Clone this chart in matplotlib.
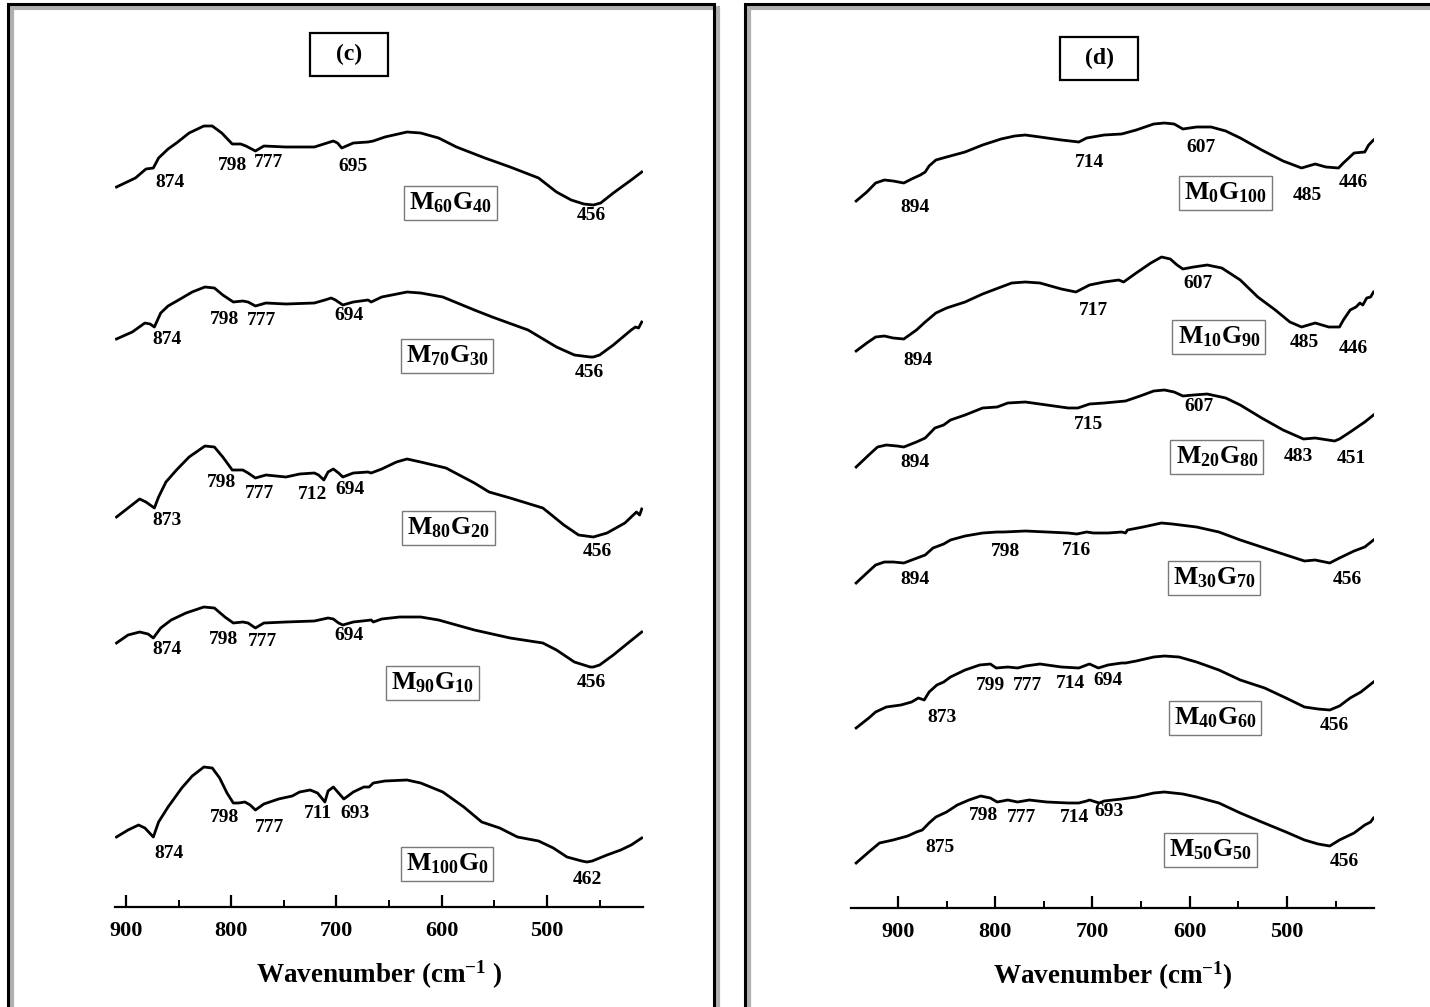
import matplotlib.pyplot as plt
from matplotlib.patches import Rectangle
from matplotlib.ticker import MultipleLocator

plt.rcParams['font.family'] = ['Liberation Serif', 'DejaVu Serif']
plt.rcParams['font.weight'] = 'bold'
plt.rcParams['mathtext.fontset'] = 'custom'
plt.rcParams['mathtext.rm'] = 'Liberation Serif:bold'
plt.rcParams['mathtext.bf'] = 'Liberation Serif:bold'
plt.rcParams['mathtext.it'] = 'Liberation Serif:bold'

# ---- panel (c): FTIR spectra, offset transmittance (a.u.) ----
m60g40_wn = [909, 891, 881, 874, 869, 860, 852, 840, 826, 818, 809, 799, 791, 786, 777, 769, 748, 721, 709, 703,
             699, 695, 684, 670, 665, 654, 633, 620, 603, 586, 559, 535, 508, 491, 477, 465, 456, 449, 437, 420, 410]
m60g40_t = [720, 729, 738, 739, 749, 758, 764, 774, 781, 781, 774, 763, 763, 761, 756, 761, 760, 760, 764, 766,
            764, 759, 764, 765, 766, 770, 775, 774, 769, 760, 749, 740, 729, 715, 707, 703, 702, 704, 714, 727, 735]

m70g30_wn = [909, 894, 882, 877, 873, 867, 860, 850, 837, 825, 816, 808, 798, 789, 784, 777, 767, 748, 721, 711,
             705, 701, 694, 684, 670, 667, 657, 633, 620, 599, 569, 552, 518, 491, 474, 459, 456, 450, 437, 420,
             416, 413, 410]
m70g30_t = [568, 575, 584, 583, 580, 594, 601, 607, 615, 620, 619, 612, 605, 606, 605, 601, 604, 603, 604, 607,
            609, 607, 602, 605, 607, 605, 610, 615, 614, 610, 597, 590, 577, 560, 552, 550, 550, 552, 562, 577,
            580, 579, 585]

m80g20_wn = [909, 898, 887, 881, 873, 869, 862, 852, 840, 825, 816, 808, 799, 789, 784, 777, 767, 748, 735, 721,
             717, 712, 708, 703, 698, 694, 684, 670, 667, 657, 643, 633, 620, 596, 569, 555, 535, 504, 498, 484,
             470, 456, 443, 426, 418, 415, 412, 410]
m80g20_t = [390, 399, 408, 405, 399, 410, 425, 437, 450, 461, 460, 450, 437, 437, 434, 429, 432, 430, 433, 434,
            432, 427, 435, 438, 434, 430, 434, 435, 434, 438, 445, 448, 445, 439, 424, 415, 409, 399, 394, 382,
            372, 370, 374, 384, 392, 395, 392, 398]

m90g10_wn = [909, 898, 887, 879, 874, 867, 857, 843, 826, 816, 806, 798, 789, 784, 777, 769, 748, 721, 708, 703,
             698, 694, 684, 667, 665, 657, 640, 620, 603, 569, 535, 504, 491, 474, 459, 456, 450, 437, 423, 410]
m90g10_t = [264, 272, 275, 273, 269, 279, 287, 294, 300, 299, 290, 284, 285, 284, 279, 284, 285, 286, 289, 288,
            284, 282, 285, 287, 285, 288, 290, 290, 287, 277, 269, 264, 257, 245, 240, 240, 242, 252, 264, 275]

m100g0_wn = [909, 898, 888, 882, 874, 869, 860, 847, 837, 826, 818, 811, 804, 798, 793, 787, 782, 777, 769, 755,
             742, 735, 725, 718, 711, 708, 703, 698, 693, 684, 674, 669, 665, 654, 633, 620, 599, 579, 562, 545,
             528, 508, 494, 481, 467, 462, 457, 443, 430, 420, 410]
m100g0_t = [70, 77, 82, 79, 70, 85, 100, 119, 131, 140, 139, 129, 114, 104, 104, 105, 102, 97, 103, 108,
            111, 115, 117, 114, 105, 116, 120, 114, 108, 115, 120, 120, 124, 126, 127, 124, 115, 100, 85, 79,
            70, 66, 59, 50, 46, 45, 46, 52, 57, 62, 69]

# ---- panel (d) ----
m0g100_wn = [943, 932, 923, 914, 905, 894, 886, 877, 872, 868, 861, 850, 831, 813, 794, 780, 769, 754, 732, 714,
             706, 688, 670, 655, 637, 626, 616, 607, 593, 578, 563, 548, 526, 504, 485, 471, 460, 447, 442, 431,
             420, 416, 411]
m0g100_t = [707, 716, 725, 728, 727, 725, 729, 733, 736, 742, 748, 751, 756, 763, 769, 772, 773, 771, 768, 766,
            770, 773, 774, 778, 784, 785, 784, 779, 781, 781, 777, 770, 758, 747, 740, 744, 741, 740, 745, 755,
            756, 763, 768]

m10g90_wn = [943, 932, 923, 914, 905, 894, 881, 872, 861, 850, 831, 813, 794, 783, 769, 754, 732, 717, 703, 688,
             673, 668, 655, 640, 629, 620, 613, 607, 596, 582, 567, 548, 530, 512, 497, 485, 471, 457, 446, 442,
             435, 429, 425, 422, 418, 414, 411]
m10g90_t = [557, 565, 571, 572, 570, 569, 578, 586, 595, 600, 606, 614, 621, 625, 626, 625, 619, 616, 623, 626,
            628, 626, 635, 645, 651, 649, 643, 639, 641, 643, 640, 628, 611, 598, 586, 581, 585, 581, 581, 588,
            598, 601, 605, 603, 610, 611, 616]

m20g80_wn = [943, 930, 921, 912, 901, 894, 881, 872, 862, 853, 846, 831, 813, 798, 787, 769, 747, 725, 715, 703,
             688, 666, 651, 637, 626, 616, 607, 596, 582, 563, 548, 526, 504, 483, 471, 451, 446, 435, 420, 411]
m20g80_t = [441, 453, 461, 463, 462, 461, 466, 470, 480, 483, 488, 493, 500, 501, 505, 506, 503, 500, 500, 504,
            505, 507, 512, 517, 518, 516, 512, 513, 514, 510, 503, 490, 478, 469, 470, 467, 469, 476, 486, 493]

m30g70_wn = [943, 932, 923, 914, 905, 894, 883, 872, 864, 853, 846, 831, 813, 798, 791, 769, 747, 725, 716, 706,
             699, 684, 670, 666, 664, 648, 629, 618, 593, 570, 548, 523, 501, 482, 471, 456, 446, 431, 420, 411]
m30g70_t = [325, 335, 343, 346, 346, 345, 349, 353, 360, 364, 368, 372, 375, 376, 376, 377, 376, 375, 374, 376,
            375, 375, 376, 375, 378, 381, 385, 384, 381, 376, 368, 360, 353, 347, 348, 345, 350, 357, 361, 368]

m40g60_wn = [943, 930, 923, 912, 897, 886, 879, 873, 868, 860, 853, 846, 831, 816, 805, 799, 787, 777, 769, 754,
             732, 714, 706, 703, 694, 684, 670, 666, 655, 637, 626, 611, 593, 570, 548, 523, 501, 482, 468, 456,
             446, 435, 424, 411]
m40g60_t = [180, 190, 196, 201, 203, 206, 210, 208, 216, 223, 226, 231, 238, 243, 244, 240, 241, 240, 242, 244,
            241, 240, 243, 244, 240, 243, 245, 245, 247, 251, 252, 251, 246, 238, 228, 220, 210, 201, 199, 198,
            202, 210, 216, 226]

m50g50_wn = [943, 930, 919, 905, 890, 881, 875, 868, 861, 850, 839, 827, 815, 805, 798, 787, 777, 765, 747, 725,
             714, 706, 703, 693, 688, 670, 655, 637, 626, 607, 593, 570, 548, 526, 501, 482, 468, 456, 446, 431,
             420, 414, 411]
m50g50_t = [45, 56, 65, 68, 72, 76, 78, 85, 91, 96, 103, 108, 112, 110, 106, 108, 106, 108, 106, 105,
            105, 107, 108, 105, 107, 109, 111, 115, 116, 114, 111, 105, 95, 86, 76, 68, 64, 62, 68, 75,
            83, 86, 90]

# sample names
names_c = ['M$_{60}$G$_{40}$', 'M$_{70}$G$_{30}$', 'M$_{80}$G$_{20}$', 'M$_{90}$G$_{10}$', 'M$_{100}$G$_{0}$']
names_d = ['M$_{0}$G$_{100}$', 'M$_{10}$G$_{90}$', 'M$_{20}$G$_{80}$', 'M$_{30}$G$_{70}$',
           'M$_{40}$G$_{60}$', 'M$_{50}$G$_{50}$']

# assigned band positions (cm-1)
peaks_c = [[874, 798, 777, 695, 456], [874, 798, 777, 694, 456], [873, 798, 777, 712, 694, 456],
           [874, 798, 777, 694, 456], [874, 798, 777, 711, 693, 462]]
peaks_d = [[894, 714, 607, 485, 446], [894, 717, 607, 485, 446], [894, 715, 607, 483, 451],
           [894, 798, 716, 456], [873, 799, 777, 714, 694, 456], [875, 798, 777, 714, 693, 456]]

# where each band number is written (wavenumber, a.u.)
lab_c = [[(858, 724), (799, 741), (765, 744), (684, 740), (458, 691)],
         [(861, 567), (806, 587), (771, 586), (688, 591), (460, 534)],
         [(861, 386), (809, 424), (773, 413), (723, 412), (687, 417), (452, 355)],
         [(861, 257), (807, 267), (770, 265), (688, 271), (458, 224)],
         [(859, 54), (806, 90), (764, 80), (718, 93), (682, 93), (462, 27)]]
box_c = [(592, 704), (595, 551), (594, 379), (609, 224), (595, 43)]
lab_d = [[(882, 700), (703, 745), (588, 760), (479, 712), (432, 725)],
         [(879, 547), (699, 597), (591, 624), (482, 565), (432, 559)],
         [(882, 445), (704, 483), (590, 501), (488, 451), (434, 449)],
         [(883, 328), (789, 356), (716, 357), (438, 328)],
         [(855, 190), (805, 222), (767, 222), (723, 224), (684, 227), (451, 182)],
         [(857, 60), (812, 92), (773, 90), (718, 90), (683, 96), (441, 47)]]
box_d = [(563, 715), (570, 571), (572, 451), (575, 330), (574, 190), (579, 58)]

W, H = 1430, 1007
fig = plt.figure(figsize=(W / 100, H / 100), dpi=100)


def frame(x0, y0, x1, y1):
    # picture frame with a soft grey drop shadow
    fig.add_artist(Rectangle((x0 / W + 4 / W, 1 - y1 / H - 4 / H), (x1 - x0) / W, (y1 - y0) / H,
                             transform=fig.transFigure, fill=False, ec='#b0b0b0', lw=3))
    fig.add_artist(Rectangle((x0 / W, 1 - y1 / H), (x1 - x0) / W, (y1 - y0) / H,
                             transform=fig.transFigure, fill=False, ec='black', lw=2.2))


def title_box(text, x0, y0, x1, y1):
    fig.add_artist(Rectangle((x0 / W, 1 - y1 / H), (x1 - x0) / W, (y1 - y0) / H,
                             transform=fig.transFigure, fill=False, ec='black', lw=1.6))
    fig.text((x0 + x1) / 2 / W, 1 - (y0 + y1) / 2 / H, text, ha='center', va='center',
             fontsize=17, fontweight='bold')


frame(8, 4, 714, 1030)
frame(745, 4, 1460, 1030)
title_box('(c)', 310, 33, 388, 76)
title_box('(d)', 1060, 37, 1138, 80)


def setup(ax, xlim, ylim, xlabel):
    ax.set_xlim(*xlim)
    ax.set_ylim(*ylim)
    ax.set_facecolor('none')
    for s in ['left', 'right', 'top']:
        ax.spines[s].set_visible(False)
    ax.spines['bottom'].set_linewidth(1.6)
    ax.set_yticks([])
    ax.xaxis.set_major_locator(MultipleLocator(100))
    ax.xaxis.set_minor_locator(MultipleLocator(50))
    ax.tick_params(axis='x', which='major', direction='in', length=9, width=1.6, labelsize=16, pad=10)
    ax.tick_params(axis='x', which='minor', direction='in', length=5, width=1.4)
    for t in ax.get_xticklabels():
        t.set_fontweight('bold')
    ax.set_xlabel(xlabel, fontsize=19.5, fontweight='bold', labelpad=13)


def draw(ax, wns, ts, names, peaks, labs, boxes):
    for wn, t, name, pk, lb, bx in zip(wns, ts, names, peaks, labs, boxes):
        ax.plot(wn, t, color='black', lw=2.0, solid_joinstyle='round')
        for p, (x, y) in zip(pk, lb):
            ax.text(x, y, str(p), ha='center', va='center', fontsize=14, fontweight='bold')
        ax.text(bx[0], bx[1], name, ha='center', va='center', fontsize=18.5, fontweight='bold',
                bbox=dict(boxstyle='square,pad=0.2', fc='white', ec='#7a7a7a', lw=1))


ax1 = fig.add_axes([115 / W, 1 - 907 / H, 528 / W, 807 / H])
setup(ax1, (910.4, 408.8), (0, 807), 'Wavenumber (cm$^{-1}$ )')
draw(ax1, [m60g40_wn, m70g30_wn, m80g20_wn, m90g10_wn, m100g0_wn],
     [m60g40_t, m70g30_t, m80g20_t, m90g10_t, m100g0_t], names_c, peaks_c, lab_c, box_c)

ax2 = fig.add_axes([851 / W, 1 - 908 / H, 523 / W, 808 / H])
setup(ax2, (948.3, 410.5), (0, 808), 'Wavenumber (cm$^{-1}$)')
draw(ax2, [m0g100_wn, m10g90_wn, m20g80_wn, m30g70_wn, m40g60_wn, m50g50_wn],
     [m0g100_t, m10g90_t, m20g80_t, m30g70_t, m40g60_t, m50g50_t], names_d, peaks_d, lab_d, box_d)

fig.savefig('out.png', dpi=100)
